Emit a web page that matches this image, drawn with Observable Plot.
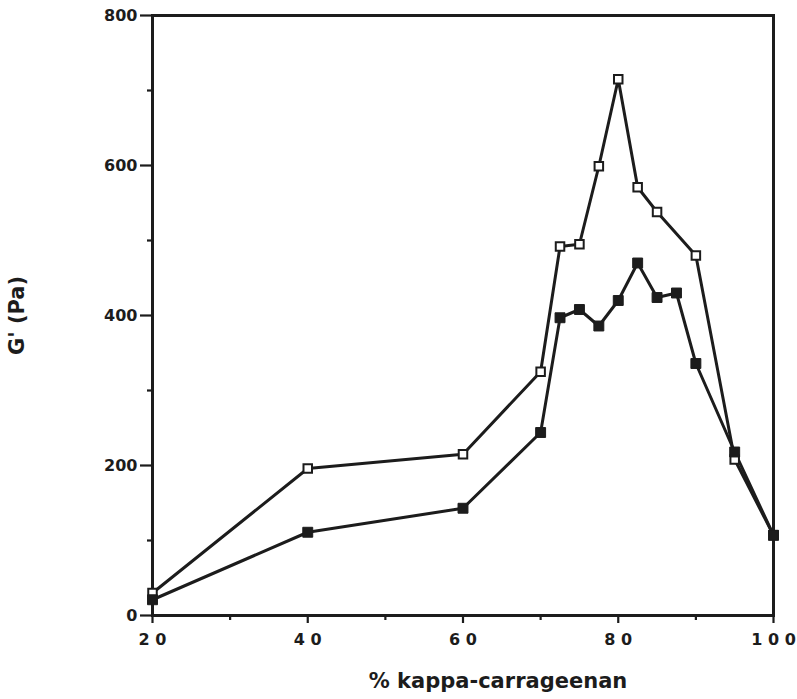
<!DOCTYPE html>
<html>
<head>
<meta charset="utf-8">
<script src="https://cdn.jsdelivr.net/npm/d3@7"></script>
<script src="https://cdn.jsdelivr.net/npm/@observablehq/plot@0.6"></script>
<style>
  html, body { margin: 0; padding: 0; background: #fff; }
</style>
</head>
<body>
<div id="chart"></div>
<script>
// Open squares series
const xOpen = [20, 40, 60, 70, 72.5, 75, 77.5, 80, 82.5, 85, 90, 95, 100];
const yOpen = [30, 196, 215, 325, 492, 495, 599, 715, 571, 538, 480, 208, 107];
// Filled squares series
const xFilled = [20, 40, 60, 70, 72.5, 75, 77.5, 80, 82.5, 85, 87.5, 90, 95, 100];
const yFilled = [21, 111, 143, 244, 397, 408, 386, 420, 470, 424, 430, 336, 218, 107];

// Ticks
const xMajorTicks = [20, 40, 60, 80, 100];
const xTickLabels = ["2 0", "4 0", "6 0", "8 0", "1 0 0"];
const xMinorTicks = [30, 50, 70, 90];
const yMajorTicks = [0, 200, 400, 600, 800];
const yMinorTicks = [100, 300, 500, 700];

const xLabel = "% kappa-carrageenan";
const yLabel = "G' (Pa)";

const openData = xOpen.map((x, i) => ({x, y: yOpen[i]}));
const filledData = xFilled.map((x, i) => ({x, y: yFilled[i]}));

const ink = "#1c1c1c";
const font = "'DejaVu Sans', sans-serif";

const chart = Plot.plot({
  width: 797,
  height: 699,
  marginTop: 15,
  marginBottom: 84,
  marginLeft: 152,
  marginRight: 24,
  x: {domain: [20, 100]},
  y: {domain: [0, 800]},
  style: {fontFamily: font, fontWeight: "bold", fontSize: "16px", color: ink, background: "#fff"},
  marks: [
    Plot.frame({stroke: ink, strokeWidth: 3}),
    Plot.axisX(xMajorTicks, {
      tickSize: 8, tickPadding: 10, strokeWidth: 2.2, fontSize: 16,
      tickFormat: (d) => xTickLabels[xMajorTicks.indexOf(d)],
      label: null
    }),
    Plot.axisX(xMinorTicks, {tickSize: 5, strokeWidth: 2.2, tickFormat: () => "", label: null}),
    Plot.axisY(yMajorTicks, {
      tickSize: 12, tickPadding: 3, strokeWidth: 2.2, fontSize: 16,
      label: yLabel, labelAnchor: "center", labelOffset: 143, labelArrow: "none"
    }),
    Plot.axisY(yMinorTicks, {tickSize: 5, strokeWidth: 2.2, tickFormat: () => "", label: null}),
    Plot.text([xLabel], {frameAnchor: "bottom", dx: 35, dy: 72, lineAnchor: "bottom", fontSize: 21, fontWeight: "bold", fill: ink}),
    Plot.line(openData, {x: "x", y: "y", stroke: ink, strokeWidth: 3}),
    Plot.line(filledData, {x: "x", y: "y", stroke: ink, strokeWidth: 3}),
    Plot.dot(openData, {x: "x", y: "y", symbol: "square", r: 4.8, fill: "#fff", stroke: ink, strokeWidth: 2}),
    Plot.dot(filledData, {x: "x", y: "y", symbol: "square", r: 5.6, fill: ink, stroke: ink, strokeWidth: 1})
  ]
});
document.getElementById("chart").appendChild(chart);
chart.querySelectorAll("text").forEach(t => {
  const s = t.textContent;
  t.style.fontFamily = font;
  t.style.fontWeight = "bold";
  if (s === xLabel || s === yLabel) t.style.fontSize = "21px";
  else t.style.fontSize = "16px";
});
</script>
</body>
</html>
